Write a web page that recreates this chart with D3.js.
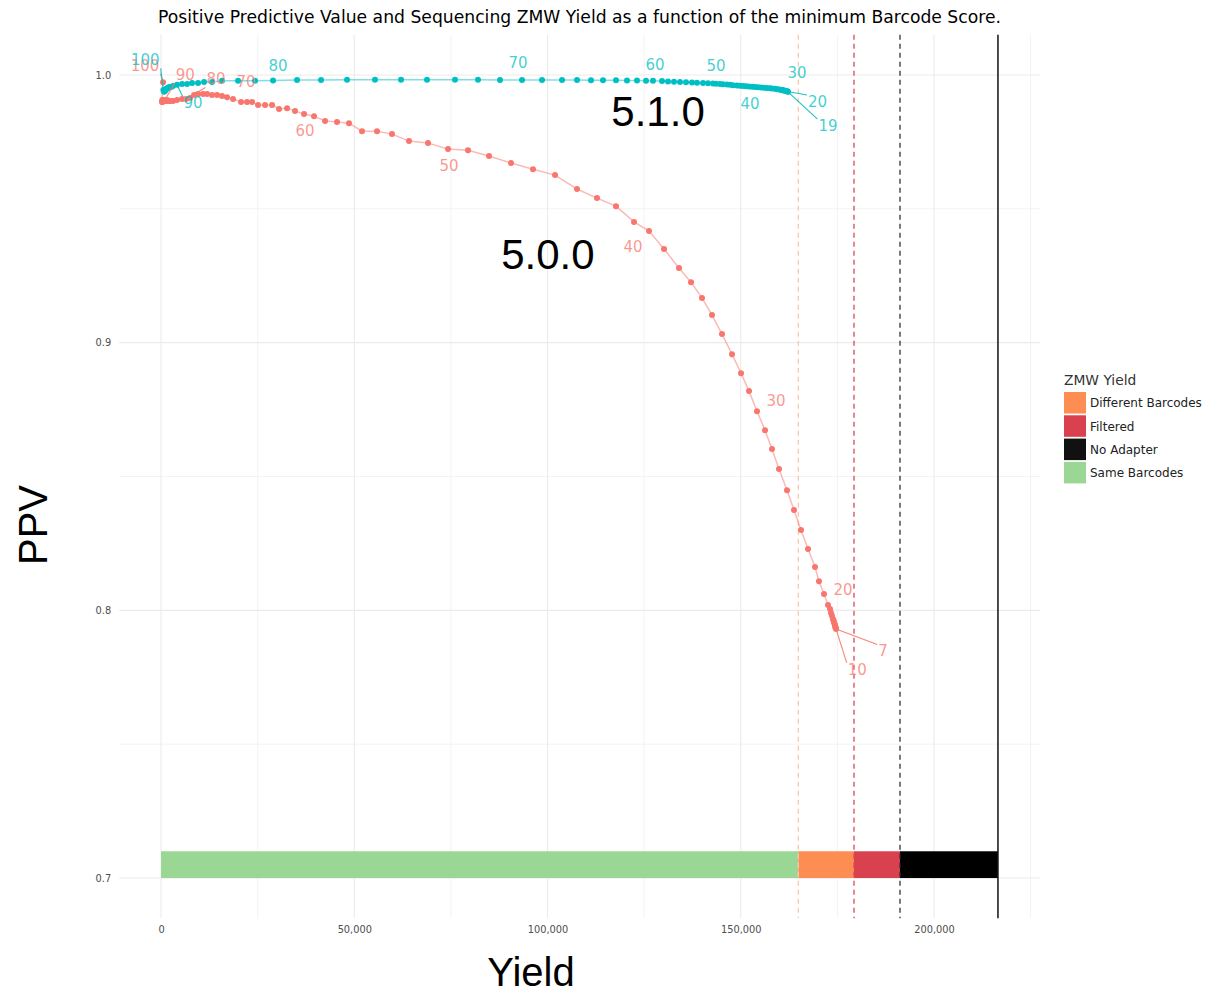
<!DOCTYPE html>
<html>
<head>
<meta charset="utf-8">
<script src="https://cdn.jsdelivr.net/npm/d3@7"></script>
<style>
  body { margin: 0; background: #fff; }
</style>
</head>
<body>
<svg id="chart" width="1206" height="994" font-family="DejaVu Sans, sans-serif"></svg>
<script>
// ---- Data -------------------------------------------------------------
// Barcode score thresholds and the resulting ZMW yield / PPV, per release
const scores500 = [100,99,98,97,96,95,94,93,92,91,90,89,88,87,86,85,84,83,82,81,
  80,79,78,77,76,75,74,73,72,71,70,69,68,67,66,65,64,63,62,61,
  60,59,58,57,56,55,54,53,52,51,50,49,48,47,46,45,44,43,42,41,
  40,39,38,37,36,35,34,33,32,31,30,29,28,27,26,25,24,23,22,21,
  20,19,18,17,16,15,14,13,12,11,10,9,8,7];
const yield500 = [517,250,300,350,400,460,520,590,660,740,820,1000,1300,1550,1811,2100,2400,3105,4140,5433,
  6468,7503,8538,9573,10867,11902,13195,14489,15783,17076,18629,20698,22251,23544,25097,26908,28719,30530,32600,34670,
  36998,39586,42432,45536,48641,52005,55886,59767,64165,69081,74256,79430,84863,90556,96248,101940,107632,112807,117722,122380,
  126261,130142,134023,137128,139974,142561,145148,147736,150064,152134,154204,156274,158085,159896,161966,163776,165588,167399,169210,170244,
  171538,172573,173100,173350,173600,173867,174000,174126,174250,174385,174450,174520,174580,174643];
const ppv500 = [0.9973,0.9899,0.9903,0.9906,0.9899,0.9903,0.9906,0.9903,0.9906,0.9903,0.9903,0.9906,0.9903,0.9906,0.9903,0.9903,0.9903,0.9903,0.9906,0.9910,
  0.9910,0.9914,0.9925,0.9929,0.9929,0.9929,0.9925,0.9925,0.9921,0.9917,0.9910,0.9899,0.9899,0.9899,0.9888,0.9888,0.9888,0.9873,0.9876,0.9865,
  0.9854,0.9846,0.9828,0.9824,0.9820,0.9790,0.9790,0.9779,0.9753,0.9746,0.9723,0.9719,0.9697,0.9671,0.9648,0.9626,0.9574,0.9540,0.9510,0.9451,
  0.9417,0.9350,0.9279,0.9226,0.9167,0.9103,0.9032,0.8957,0.8886,0.8819,0.8744,0.8673,0.8603,0.8528,0.8449,0.8375,0.8300,0.8229,0.8162,0.8109,
  0.8061,0.8020,0.8005,0.7990,0.7980,0.7968,0.7962,0.7956,0.7950,0.7945,0.7940,0.7936,0.7933,0.7930];

const scores510 = [100,99,98,97,96,95,94,93,92,91,90,89,88,87,86,85,84,83,82,81,
  80,79,78,77,76,75,74,73,72,71,70,69,68,67,66,65,64,63,62,61,
  60,59,58,57,56,55,54,53,52,51,50,49,48,47,46,45,44,43,42,41,
  40,39,38,37,36,35,34,33,32,31,30,29,28,27,26,25,24,23,22,21,20,19];
const yield510 = [600,800,1000,1200,1400,1600,1850,2100,2600,3100,4140,5433,6727,8021,9573,11125,13195,15783,19922,24321,
  28978,35187,41397,48124,55368,62095,68822,76067,82017,87709,93402,98576,103751,107632,111254,114359,117722,120568,123156,125484,
  127295,129624,131176,132729,134281,135833,137386,138680,140232,141526,142819,143595,144630,145406,146441,147218,147994,149029,149805,150581,
  151357,152134,152910,153686,154462,155238,156014,156791,157567,158085,158861,159378,159896,160413,160672,160931,161189,161448,161707,161966,162095,162224];
const ppv510 = [0.9944,0.9937,0.9940,0.9944,0.9948,0.9951,0.9951,0.9955,0.9955,0.9959,0.9963,0.9966,0.9966,0.9970,0.9970,0.9974,0.9974,0.9978,0.9978,0.9978,
  0.9979,0.9981,0.9981,0.9982,0.9982,0.9982,0.9982,0.9982,0.9982,0.9981,0.9981,0.9981,0.9981,0.9981,0.9980,0.9980,0.9980,0.9979,0.9979,0.9978,
  0.9978,0.9977,0.9976,0.9975,0.9974,0.9973,0.9972,0.9971,0.9970,0.9969,0.9968,0.9967,0.9966,0.9965,0.9964,0.9963,0.9962,0.9961,0.9960,0.9959,
  0.9958,0.9957,0.9956,0.9955,0.9954,0.9953,0.9952,0.9951,0.9950,0.9949,0.9948,0.9947,0.9946,0.9945,0.9944,0.9943,0.9942,0.9941,0.9940,0.9939,0.9938,0.9937];

// ZMW yield breakdown (stacked bar along the bottom)
const yieldCategories = ["Same Barcodes", "Different Barcodes", "Filtered", "No Adapter"];
const yieldCounts = [164900, 14400, 11900, 25350];
const legendOrder = ["Different Barcodes", "Filtered", "No Adapter", "Same Barcodes"];

// Axis ticks
const xTicks = [0, 50000, 100000, 150000, 200000];
const xMinorTicks = [25000, 75000, 125000, 175000, 225000];
const yTicks = [0.7, 0.8, 0.9, 1.0];
const yMinorTicks = [0.75, 0.85, 0.95];

// Release annotations placed in data space
const releaseNames = ["5.1.0", "5.0.0"];
const releaseYield = [128600, 100100];
const releasePPV = [0.9865, 0.9331];

// ---- Styling & layout --------------------------------------------------
const catColor = {
  "Same Barcodes": "#9ad794",
  "Different Barcodes": "#fd8d52",
  "Filtered": "#da414e",
  "No Adapter": "#000000"
};
const legendKeyColor = { ...catColor, "No Adapter": "#111111" };
const vlineStyle = [
  { color: "#fdc8aa", dash: "5,4", width: 1.3 },
  { color: "#dc4759", dash: "5,4", width: 1.3 },
  { color: "#333333", dash: "5,4", width: 1.3 },
  { color: "#111111", dash: null, width: 1.5 }
];
const col500 = "#F8766D", col510 = "#00BFC4";
const SANS = "Liberation Sans, Arial, sans-serif";

// label placement offsets (px) and which labels carry a leader segment
const nudge500 = {100:[-18,-17],90:[21,-26],80:[30,-20],70:[13,-17],60:[1,17],50:[1,16],40:[-16,16],30:[19,-11],20:[19,-4],10:[22,43],7:[47,22]};
const nudge510 = {100:[-18,-30],90:[16,18],80:[5,-15],70:[-4,-17],60:[2,-16],50:[3,-18],40:[4,17],30:[22,-16],20:[30,10],19:[40,34]};
const leader500 = [100, 90, 80, 10, 7];
const leader510 = [100, 90, 20, 19];

const svg = d3.select("#chart");
const total = d3.sum(yieldCounts);
const pad = total * 0.05;
const x = d3.scaleLinear().domain([-pad, total + pad]).range([119.2, 1039.8]);
const y = d3.scaleLinear().domain([0.685, 1.015]).range([918.2, 34.8]);
const [pl, pr] = x.range();
const [pb, pt] = y.range();

// ---- Grid ---------------------------------------------------------------
const grid = svg.append("g");
grid.selectAll(".ymin").data(yMinorTicks).join("line")
  .attr("x1", pl).attr("x2", pr).attr("y1", d => y(d)).attr("y2", d => y(d))
  .attr("stroke", "#f3f3f3").attr("stroke-width", 1);
grid.selectAll(".xmin").data(xMinorTicks.filter(d => d <= x.domain()[1])).join("line")
  .attr("y1", pt).attr("y2", pb).attr("x1", d => x(d)).attr("x2", d => x(d))
  .attr("stroke", "#f3f3f3").attr("stroke-width", 1);
grid.selectAll(".ymaj").data(yTicks).join("line")
  .attr("x1", pl).attr("x2", pr).attr("y1", d => y(d)).attr("y2", d => y(d))
  .attr("stroke", "#ebebeb").attr("stroke-width", 1.1);
grid.selectAll(".xmaj").data(xTicks).join("line")
  .attr("y1", pt).attr("y2", pb).attr("x1", d => x(d)).attr("x2", d => x(d))
  .attr("stroke", "#ebebeb").attr("stroke-width", 1.1);

// ---- Axes tick labels ---------------------------------------------------
const xAxis = d3.axisBottom(x).tickValues(xTicks).tickSize(0).tickPadding(0).tickFormat(d3.format(","));
const gx = svg.append("g").attr("transform", `translate(0,${pb + 8})`).call(xAxis);
gx.select(".domain").remove();
gx.selectAll("text").attr("font-size", "9.8px").attr("fill", "#4d4d4d")
  .style("font-family", "DejaVu Sans, sans-serif").attr("dy", "0.71em");

const yAxis = d3.axisLeft(y).tickValues(yTicks).tickSize(0).tickPadding(0).tickFormat(d3.format(".1f"));
const gy = svg.append("g").attr("transform", `translate(${pl - 8},0)`).call(yAxis);
gy.select(".domain").remove();
gy.selectAll("text").attr("font-size", "9.8px").attr("fill", "#4d4d4d")
  .style("font-family", "DejaVu Sans, sans-serif");

// ---- Stacked yield bar --------------------------------------------------
let acc = 0;
const barSegs = yieldCategories.map((c, i) => {
  const s = { cat: c, x0: acc, x1: acc + yieldCounts[i] };
  acc += yieldCounts[i];
  return s;
});
svg.append("g").selectAll("rect").data(barSegs).join("rect")
  .attr("x", d => x(d.x0)).attr("width", d => x(d.x1) - x(d.x0))
  .attr("y", y(0.71)).attr("height", y(0.7) - y(0.71))
  .attr("fill", d => catColor[d.cat]);

// boundaries of each category as vertical reference lines
svg.append("g").selectAll("line").data(barSegs).join("line")
  .attr("x1", d => x(d.x1)).attr("x2", d => x(d.x1))
  .attr("y1", pt).attr("y2", pb)
  .attr("stroke", (d, i) => vlineStyle[i].color)
  .attr("stroke-width", (d, i) => vlineStyle[i].width)
  .attr("stroke-dasharray", (d, i) => vlineStyle[i].dash);

// ---- Series --------------------------------------------------------------
const series = [
  { name: "5.0.0", color: col500, scores: scores500, yields: yield500, ppv: ppv500, nudge: nudge500, leaders: leader500 },
  { name: "5.1.0", color: col510, scores: scores510, yields: yield510, ppv: ppv510, nudge: nudge510, leaders: leader510 }
];
series.forEach(s => {
  s.pts = s.scores.map((sc, i) => ({ score: sc, yv: s.yields[i], pv: s.ppv[i] }));
});

const line = d3.line().x(d => x(d.yv)).y(d => y(d.pv));
series.forEach(s => {
  svg.append("path").datum(s.pts)
    .attr("d", line).attr("fill", "none")
    .attr("stroke", s.color).attr("stroke-opacity", 0.5).attr("stroke-width", 1.5);
});
series.forEach(s => {
  svg.append("g").selectAll("circle").data(s.pts).join("circle")
    .attr("cx", d => x(d.yv)).attr("cy", d => y(d.pv)).attr("r", 3)
    .attr("fill", s.color);
});

// ---- Score labels -------------------------------------------------------
series.forEach(s => {
  const g = svg.append("g");
  const labelled = s.pts.filter(d => s.nudge[d.score]);
  labelled.forEach(d => {
    const px = x(d.yv), py = y(d.pv);
    const [dx, dy] = s.nudge[d.score];
    const t = g.append("text")
      .attr("x", px + dx).attr("y", py + dy).attr("dy", "0.36em")
      .attr("text-anchor", "middle").attr("font-size", "15px")
      .attr("fill", s.color).attr("fill-opacity", 0.75)
      .text(d.score);
    if (s.leaders.includes(d.score)) {
      const b = t.node().getBBox();
      const bx0 = b.x - 1, bx1 = b.x + b.width + 1, by0 = b.y + 2, by1 = b.y + b.height - 1;
      const ex = Math.max(bx0, Math.min(px, bx1));
      const ey = Math.max(by0, Math.min(py, by1));
      g.insert("line", "text")
        .attr("x1", px).attr("y1", py).attr("x2", ex).attr("y2", ey)
        .attr("stroke", s.color).attr("stroke-width", 1.1).attr("stroke-opacity", 0.9);
    }
  });
});

// ---- Release annotations ------------------------------------------------
svg.append("g").selectAll("text").data(releaseNames).join("text")
  .attr("x", (d, i) => x(releaseYield[i])).attr("y", (d, i) => y(releasePPV[i]))
  .attr("dy", "0.36em").attr("text-anchor", "middle")
  .style("font-family", SANS).attr("font-size", "42px")
  .attr("fill", "#000").text(d => d);

// ---- Titles ---------------------------------------------------------------
svg.append("text").attr("x", (pl + pr) / 2).attr("y", 23).attr("text-anchor", "middle")
  .attr("font-size", "17.2px").attr("fill", "#000")
  .text("Positive Predictive Value and Sequencing ZMW Yield as a function of the minimum Barcode Score.");
svg.append("text").attr("x", 531).attr("y", 986).attr("text-anchor", "middle")
  .style("font-family", SANS).attr("font-size", "40px")
  .attr("fill", "#000").text("Yield");
svg.append("text").attr("transform", `translate(47,525) rotate(-90)`)
  .attr("text-anchor", "middle")
  .style("font-family", SANS).attr("font-size", "40px")
  .attr("fill", "#000").text("PPV");

// ---- Legend ---------------------------------------------------------------
const lg = svg.append("g").attr("transform", "translate(1064,0)");
lg.append("text").attr("x", 0).attr("y", 385).attr("font-size", "13.8px").attr("fill", "#333")
  .text("ZMW Yield");
const keys = lg.selectAll("g.key").data(legendOrder).join("g")
  .attr("transform", (d, i) => `translate(0,${392 + i * 23.3})`);
keys.append("rect").attr("width", 22).attr("height", 21.5).attr("fill", d => legendKeyColor[d]);
keys.append("text").attr("x", 26).attr("y", 11).attr("dy", "0.36em")
  .attr("font-size", "12px").attr("fill", "#222").text(d => d);
</script>
</body>
</html>
